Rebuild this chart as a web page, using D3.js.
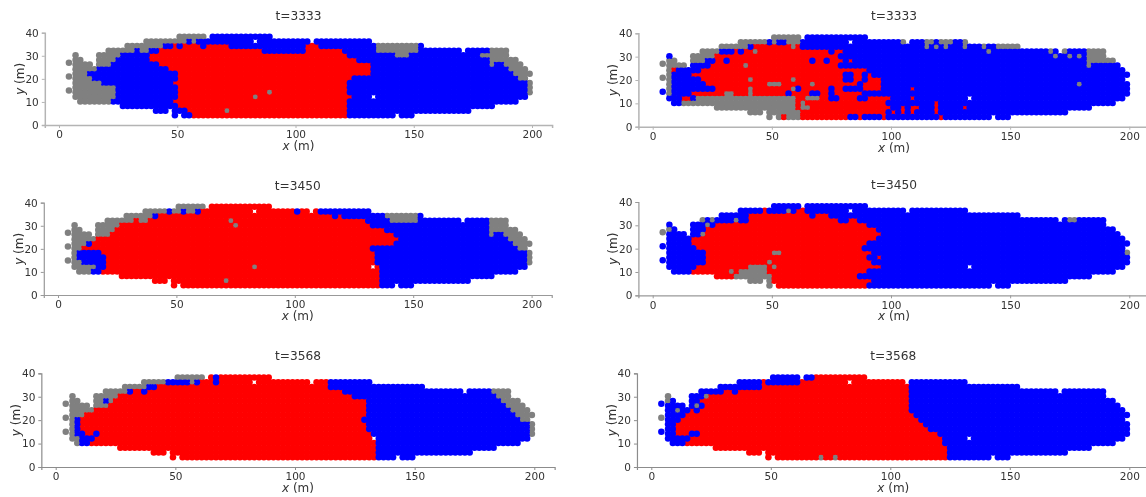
<!DOCTYPE html>
<html lang="en">
<head>
<meta charset="UTF-8">
<title>Cell states along the bar</title>
<script src="https://d3js.org/d3.v7.min.js"></script>
<style>
    html, body {margin:0; background:#fff; overflow:hidden}
    svg {display:block; filter:blur(0.35px)}
    text {font-family:"DejaVu Sans", sans-serif; fill:#333}
</style>
</head>
<body>
<svg id="chart" width="1146" height="497"></svg>
<script>
// cell rows of the grid, top to bottom (m)
var rowY = [38.2, 36.2, 34.2, 32.2, 30.2, 28.2, 26.2, 24.2, 22.2, 20.2, 18.2, 16.2, 14.2, 12.2, 10.2, 8.2, 6.2, 4.2];

// x ranges occupied in each row, same in every panel (holes at 83,36 and 133,12)
var rowRanges = [
    "51-61 65-89",
    "37-81 85-105 109-131",
    "29-153",
    "21-169 173-189",
    "7-7 17-189",
    "7-9 17-193",
    "7-13 17-195",
    "7-197",
    "7-199",
    "7-197",
    "7-199",
    "7-199",
    "7-199",
    "7-131 135-197",
    "9-11 13-193",
    "27-183",
    "41-45 49-173",
    "49-49 53-141 145-149"
];

// state along each row: letter + last x with that state (g grey, r red, b blue)
var t3333a = [
    "g61 b199",
    "g53 b55 g57 b199",
    "g43 b47 r49 b51 r59 b61 r71 b103 r109 b133 g151 b199",
    "g31 b33 g37 b41 r85 b103 r119 b133 g151 b181 g189",
    "g25 b37 r121 b141 g147 b177 g189",
    "g23 b37 r125 b181 g193",
    "g21 b41 r131 b181 g183 b187 g195",
    "g15 b45 r131 b189 g197",
    "g11 b49 r131 b191 g199",
    "g13 b49 r123 b193 g197",
    "g17 b47 r121 b197 g199",
    "g23 b49 r121 b197 g199",
    "g23 b49 r87 g89 r121 b197 g199",
    "g23 b49 r81 g83 r123 b199",
    "g21 b47 r121 b199",
    "b49 r121 b199",
    "b53 r69 g71 r121 b199",
    "b55 r121 b199"
];
var t3333b = [
    "g61 b199",
    "g47 b49 g51 b55 g61 b103 g105 b113 g117 b119 g125 b129 g131",
    "g39 b41 r57 g59 r61 b113 g115 b117 g119 b121 g123 b129 g131 b137 g139 b143 g153",
    "g27 b33 r35 b37 r41 g43 r73 b75 r79 b139 g141 b165 g167 b171 g173 b181 g189",
    "b7 g25 r77 b167 g169 b173 g175 b177 g179 b181 g189",
    "g21 b25 r29 b31 r65 b67 r71 b73 r79 b81 r83 b181 g193",
    "g13 b23 r37 g39 r77 b181 g183 b195",
    "g7 r9 b19 r89 b199",
    "g7 b15 r79 b83 r87 b89 r91 b199",
    "g7 b19 r39 g41 r57 g59 r79 b83 r87 b89 r95 b199",
    "g7 b21 r47 g53 r65 g67 r85 b87 r95 b177 g179 b199",
    "g7 b25 r39 g41 r57 g59 b61 r73 b75 r79 b87 r95 b107 r109 b199",
    "g7 b15 r29 g33 r39 g41 r55 b57 r65 b69 r73 b75 r87 b199",
    "b11 r15 b17 g59 r63 g69 r73 b77 r85 b89 r99 b107 r109 b199",
    "b11 g59 r61 g63 r97 b117 r119 b199",
    "g59 r61 g65 r99 b103 r105 b107 r111 b117 r119 b129 r131 b199",
    "g61 r97 b99 r101 b103 r105 b107 r109 b117 r119 b199",
    "g53 r55 g61 r81 b85 r87 b95 r97 b119 r121 b199"
];
var t3450a = [
    "g61 r199",
    "g45 b47 g51 b53 g57 b59 r99 b101 r109 b131",
    "g39 b41 r115 b117 r119 b137 g151 b153",
    "g31 r33 g37 r71 g73 r129 b139 g151 b181 g189",
    "g25 r73 g75 r131 b181 g189",
    "g23 r137 b181 g193",
    "g21 r141 b181 g183 b187 g195",
    "g15 r143 b189 g197",
    "g11 b13 r141 b191 g199",
    "g9 r131 b193 g197",
    "g7 b17 r133 b197 g199",
    "g7 b19 r133 b197 g199",
    "g9 b19 r133 b197 g199",
    "g15 b19 r81 g83 r135 b199",
    "g13 b17 r135 b199",
    "r135 b199",
    "r69 g71 r135 b199",
    "r135 b199"
];
var t3450b = [
    "b199",
    "b45 r47 b55 g57 b59 r63 b199",
    "b39 r65 b67 r73 b199",
    "g21 b23 g25 b33 g35 b39 r77 b81 r85 b173 g177 b189",
    "b21 g23 b25 r89 b199",
    "g7 b21 r93 b199",
    "b19 g21 r95 b199",
    "b15 r93 b199",
    "b15 r89 b199",
    "b17 r87 b199",
    "b21 r49 g53 r91 b197 g199",
    "b21 r89 b93 r95 b199",
    "b21 r47 g49 r91 b199",
    "b17 r39 g47 r49 g51 r95 b199",
    "b15 r31 g33 r35 g47 r89 b199",
    "r33 g49 r85 b199",
    "g49 r91 b199",
    "g49 r89 b199"
];
var t3568a = [
    "g61 r65 b67 r199",
    "g45 b55 g57 b59 r65 b67 r113 b131",
    "g37 b41 r113 b153",
    "g29 b31 r35 b37 r119 b181 g189",
    "g25 r123 b183 g189",
    "g19 b21 g23 r129 b185 g193",
    "g21 r129 b187 g195",
    "g15 r129 b189 g197",
    "g11 r129 b191 g199",
    "g7 b9 r127 b193 g197",
    "g7 b9 r129 b197 g199",
    "g7 b9 r129 b197 g199",
    "g7 b11 r15 b17 r131 b197 g199",
    "g9 b15 r133 b199",
    "g9 b13 r133 b199",
    "r133 b199",
    "r133 b199",
    "r133 b199"
];
var t3568b = [
    "b67 r199",
    "b45 r47 b61 r105 b199",
    "b45 r107 b199",
    "b29 r33 b35 r107 b199",
    "g7 b21 g23 r107 b199",
    "g7 b19 r107 b199",
    "b17 g19 b21 r107 b199",
    "b9 g11 b15 r17 b19 r107 b199",
    "b13 r109 b199",
    "b11 r111 b199",
    "b9 r113 b199",
    "b9 r115 b199",
    "b9 r15 b19 r119 b199",
    "b15 r121 b199",
    "b13 r121 b199",
    "r123 b199",
    "r123 b199",
    "r69 g71 r75 g77 r123 b199"
];

// the three cells left of the grid at x=4.2, y = 27, 21, 15
var outlierY = [27, 21, 15];
var outliers3333a = ["g", "g", "g"];
var outliers3333b = ["g", "g", "b"];
var outliers3450a = ["g", "g", "g"];
var outliers3450b = ["g", "b", "b"];
var outliers3568a = ["g", "g", "g"];
var outliers3568b = ["b", "g", "b"];

var xTicks = [0, 50, 100, 150, 200];
var yTicks = [0, 10, 20, 30, 40];
var stateColor = {g: "#808080", r: "#ff0000", b: "#0000ff"};

// axes boxes in page pixels, x0 = where x=0 falls, k = px per metre
var panels = [
    {title: "t=3333", rows: t3333a, out: outliers3333a, x0: 59,    k: 2.365, y0: 125,   y40: 32.7,  spine: "#b4b4b4", sw: 1.5},
    {title: "t=3333", rows: t3333b, out: outliers3333b, x0: 652.7, k: 2.383, y0: 126.7, y40: 33.3,  spine: "#b4b4b4", sw: 1.5},
    {title: "t=3450", rows: t3450a, out: outliers3450a, x0: 58,    k: 2.368, y0: 295,   y40: 202.7, spine: "#999",    sw: 1.2},
    {title: "t=3450", rows: t3450b, out: outliers3450b, x0: 652.7, k: 2.383, y0: 295.3, y40: 202,   spine: "#999",    sw: 1.2},
    {title: "t=3568", rows: t3568a, out: outliers3568a, x0: 55.7,  k: 2.393, y0: 467,   y40: 373.3, spine: "#8c8c8c", sw: 1.2},
    {title: "t=3568", rows: t3568b, out: outliers3568b, x0: 651.3, k: 2.39,  y0: 467,   y40: 373.3, spine: "#8c8c8c", sw: 1.2}
];

var svg = d3.select("#chart");
panels.forEach(drawPanel);

// expand one panel's run strings to a list of cells
function cellsFor(rows, out){
    var cells = [];
    rows.forEach(function(row, r){
        var runs = row.split(" ").map(function(s){
            return {state: s[0], end: +s.slice(1)};
        });
        rowRanges[r].split(" ").forEach(function(range){
            var ends = range.split("-");
            for (var x = +ends[0]; x <= +ends[1]; x += 2){
                var run = runs.find(function(d){ return d.end >= x; }) || runs[runs.length - 1];
                cells.push({x: x, y: rowY[r], state: run.state});
            }
        });
    });
    out.forEach(function(state, i){
        cells.push({x: 4.2, y: outlierY[i], state: state});
    });
    return cells;
}

function drawPanel(p){
    var x = d3.scaleLinear().domain([-6, 208.5]).range([p.x0 - 6 * p.k, p.x0 + 208.5 * p.k]);
    var y = d3.scaleLinear().domain([0, 40]).range([p.y0, p.y40]);
    var g = svg.append("g");

    function dots(state, r){
        g.append("g").selectAll("circle")
            .data(cells.filter(function(d){ return d.state == state; }))
            .enter()
            .append("circle")
            .attr("cx", function(d){ return x(d.x); })
            .attr("cy", function(d){ return y(d.y); })
            .attr("r", r)
            .attr("fill", stateColor[state]);
    }

    // grey first, blue last, then a smaller grey on top so lone grey cells stay visible
    var cells = cellsFor(p.rows, p.out);
    dots("g", 3.25);
    dots("r", 3.25);
    dots("b", 3.25);
    dots("g", 2.4);

    var xAxis = g.append("g")
        .attr("transform", "translate(0," + p.y0 + ")")
        .call(d3.axisBottom(x).tickValues(xTicks).tickSizeOuter(0).tickSize(3).tickPadding(3));
    var yAxis = g.append("g")
        .attr("transform", "translate(" + x.range()[0] + ",0)")
        .call(d3.axisLeft(y).tickValues(yTicks).tickSizeOuter(0).tickSize(3).tickPadding(3));
    [xAxis, yAxis].forEach(function(a){
        a.selectAll("text").attr("font-size", 10.5).style("font-family", '"DejaVu Sans", sans-serif').attr("fill", "#333");
        a.selectAll("path, line").attr("stroke", p.spine);
        a.select("path").attr("stroke-width", p.sw);
    });

    var cx = (x.range()[0] + x.range()[1]) / 2;
    g.append("text")
        .attr("x", cx)
        .attr("y", p.y40 - 13)
        .attr("text-anchor", "middle")
        .attr("font-size", 12.2)
        .text(p.title);

    var xLabel = g.append("text")
        .attr("x", cx)
        .attr("y", p.y0 + 25)
        .attr("text-anchor", "middle")
        .attr("font-size", 12);
    xLabel.append("tspan").attr("font-style", "italic").text("x");
    xLabel.append("tspan").text(" (m)");

    var yLabel = g.append("text")
        .attr("transform", "translate(" + (x.range()[0] - 21) + "," + ((p.y0 + p.y40) / 2) + ") rotate(-90)")
        .attr("text-anchor", "middle")
        .attr("font-size", 12);
    yLabel.append("tspan").attr("font-style", "italic").text("y");
    yLabel.append("tspan").text(" (m)");
}
</script>
</body>
</html>
